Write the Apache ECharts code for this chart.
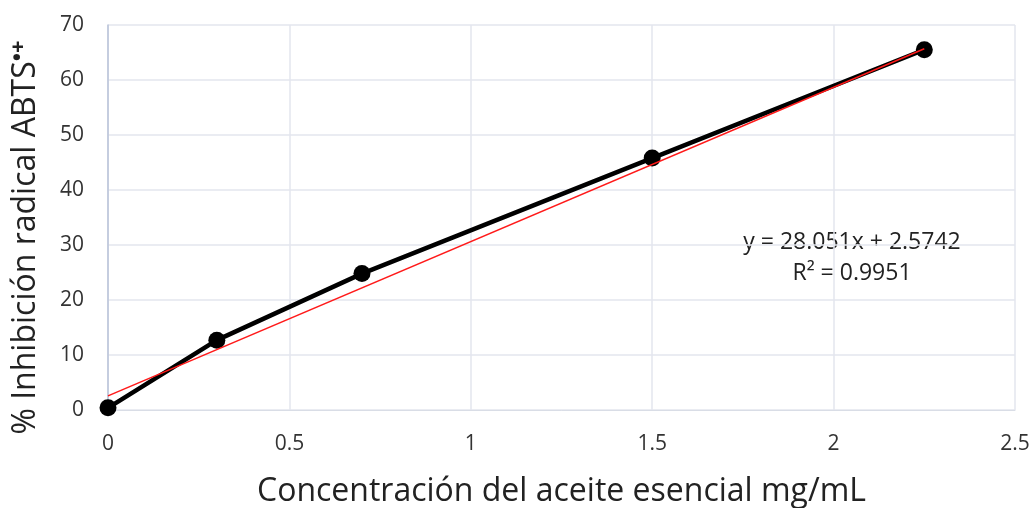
<!DOCTYPE html>
<html><head><meta charset="utf-8">
<script src="https://cdn.jsdelivr.net/npm/echarts@6/dist/echarts.min.js"></script>
<style>html,body{margin:0;padding:0;background:#fff}#c{width:1036px;height:508px}</style>
</head><body><div id="c"></div>
<script>
const concentrations = [0, 0.3, 0.7, 1.5, 2.25];
const inhibition = [0.4, 12.7, 24.8, 45.8, 65.5];
const trendX = [0, 2.25];
const trendY = [2.57, 65.69];
const xTicks = [0, 0.5, 1, 1.5, 2, 2.5];
const yTicks = [0, 10, 20, 30, 40, 50, 60, 70];
const eqText = 'y = 28.051x + 2.5742';
const r2Text = 'R² = 0.9951';

const FONT = 'Open Sans';
const chart = echarts.init(document.getElementById('c'));
chart.setOption({
  animation: false,
  grid: {left: 108, right: 21, top: 25, bottom: 98, outerBoundsMode: 'none', containLabel: false},
  xAxis: {
    type: 'value', min: xTicks[0], max: xTicks[xTicks.length-1], interval: 0.5,
    axisLine: {show: true, lineStyle: {color: '#d9dde6', width: 1}},
    axisTick: {show: false},
    splitLine: {show: true, lineStyle: {color: '#e3e6ee', width: 1.5}},
    axisLabel: {color: '#333', fontSize: 21, fontFamily: FONT, margin: 24},
    name: 'Concentración del aceite esencial mg/mL',
    nameLocation: 'middle', nameGap: 66,
    nameTextStyle: {color: '#222', fontSize: 32, fontFamily: FONT}
  },
  yAxis: {
    type: 'value', min: yTicks[0], max: yTicks[yTicks.length-1], interval: 10,
    axisLine: {show: true, lineStyle: {color: '#b9c3d9', width: 1.5}},
    axisTick: {show: false},
    splitLine: {show: true, lineStyle: {color: '#e3e6ee', width: 1.5}},
    axisLabel: {color: '#333', fontSize: 21, fontFamily: FONT, margin: 24},
    name: '{n|% Inhibición radical ABTS}{s|•+}',
    nameLocation: 'middle', nameGap: 64, nameRotate: 90,
    nameTextStyle: {
      color: '#222', fontSize: 32, fontFamily: FONT, padding: [0, 40, 0, 0],
      rich: {
        n: {fontSize: 32, fontFamily: FONT, color: '#222'},
        s: {fontSize: 22, fontFamily: FONT, color: '#222', fontWeight: 'bold', verticalAlign: 'top', padding: [0,0,14,0]}
      }
    }
  },
  series: [
    {
      type: 'line', data: concentrations.map((x, i) => [x, inhibition[i]]),
      symbol: 'circle', symbolSize: 17,
      lineStyle: {color: '#000', width: 4.5},
      itemStyle: {color: '#000'}, z: 2
    },
    {
      type: 'line', data: trendX.map((x, i) => [x, trendY[i]]),
      symbol: 'none', lineStyle: {color: '#ff1a1a', width: 1.5}, z: 3
    }
  ],
  graphic: [
    {type: 'text', x: 852, y: 242, style: {text: eqText, fill: '#222', font: '23px "Open Sans"', align: 'center', verticalAlign: 'middle'}},
    {type: 'text', x: 852, y: 273, style: {text: r2Text, fill: '#222', font: '23px "Open Sans"', align: 'center', verticalAlign: 'middle'}}
  ]
});
</script></body></html>
